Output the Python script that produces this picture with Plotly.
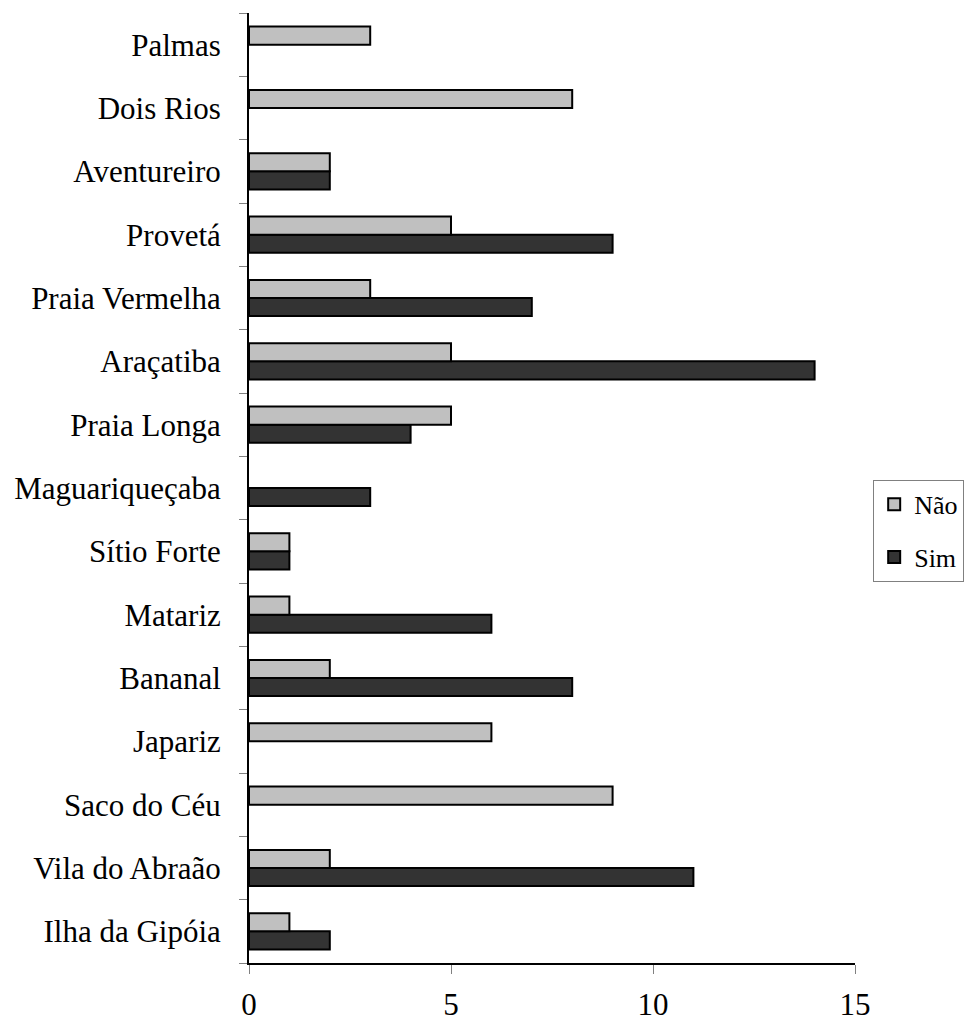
import plotly.graph_objects as go

categories = ["Ilha da Gipóia", "Vila do Abraão", "Saco do Céu", "Japariz", "Bananal",
              "Matariz", "Sítio Forte", "Maguariqueçaba", "Praia Longa", "Araçatiba",
              "Praia Vermelha", "Provetá", "Aventureiro", "Dois Rios", "Palmas"]
nao = [1, 2, 9, 6, 2, 1, 1, None, 5, 5, 3, 5, 2, 8, 3]
sim = [2, 11, None, None, 8, 6, 1, 3, 4, 14, 7, 9, 2, None, None]
x_ticks = [0, 5, 10, 15]

FONT = "Liberation Serif"

fig = go.Figure()
fig.add_trace(go.Bar(y=categories, x=sim, orientation="h", name="Sim", legendgroup="sim",
                     legendrank=2,
                     marker=dict(color="#333333", line=dict(color="black", width=2))))
fig.add_trace(go.Bar(y=categories, x=nao, orientation="h", name="Não", legendgroup="nao",
                     legendrank=1,
                     marker=dict(color="#C0C0C0", line=dict(color="black", width=2))))

fig.update_layout(
    width=972, height=1023,
    barmode="group", bargap=0.43, bargroupgap=0,
    plot_bgcolor="white", paper_bgcolor="white",
    margin=dict(l=249, r=117, t=13, b=60, autoexpand=False),
    font=dict(family=FONT, size=31, color="black"),
    showlegend=True,
    legend=dict(traceorder="grouped", x=1.03, y=0.455, xanchor="left", yanchor="middle",
                bordercolor="#808080", borderwidth=1, bgcolor="white",
                font=dict(family=FONT, size=26), itemwidth=30, tracegroupgap=16),
)
fig.update_xaxes(range=[0, 15], tickvals=x_ticks, ticks="outside", ticklen=9,
                 tickcolor="#808080", showline=True, linecolor="black", linewidth=2,
                 showgrid=False, zeroline=False, ticklabelstandoff=4, automargin=False,
                 tickfont=dict(family=FONT, size=31))
fig.update_yaxes(type="category", categoryorder="array", categoryarray=categories,
                 ticks="outside", ticklen=8, tickcolor="#808080", tickson="boundaries",
                 showline=True, linecolor="black", linewidth=2, showgrid=False,
                 automargin=False, ticklabelstandoff=20,
                 tickfont=dict(family=FONT, size=31))

fig.write_html("out.html", config={"displayModeBar": False},
               post_script="document.body.style.margin='0';document.body.style.overflow='hidden';")
